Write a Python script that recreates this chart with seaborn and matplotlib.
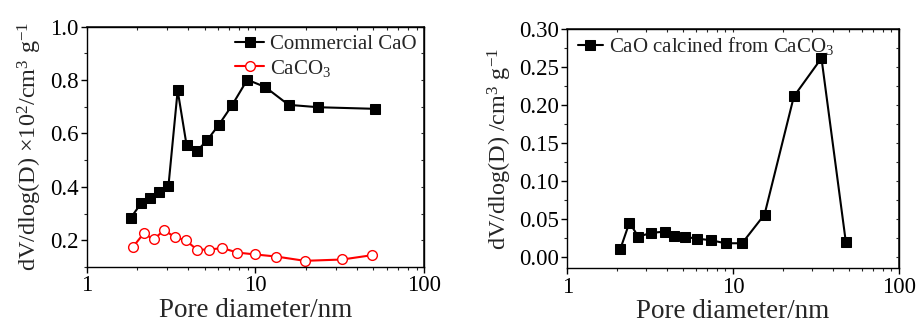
import matplotlib
matplotlib.use("Agg")
import matplotlib.pyplot as plt
import seaborn as sns
import numpy as np
from matplotlib.ticker import MultipleLocator, LogLocator, NullFormatter, FixedLocator, FixedFormatter

sns.set_theme(style="ticks")
plt.rcParams['font.family'] = ['Liberation Serif', 'DejaVu Serif']
plt.rcParams['mathtext.fontset'] = 'custom'
plt.rcParams['mathtext.rm'] = 'Liberation Serif'
plt.rcParams['mathtext.it'] = 'Liberation Serif:italic'
plt.rcParams['axes.unicode_minus'] = True

# Left panel data
comm_x = [1.83, 2.10, 2.38, 2.69, 3.05, 3.46, 3.91, 4.50, 5.18, 6.08, 7.26, 8.94, 11.4, 15.7, 23.6, 51.3]
comm_y = [0.285, 0.338, 0.358, 0.382, 0.402, 0.761, 0.555, 0.534, 0.575, 0.633, 0.705, 0.801, 0.774, 0.707, 0.698, 0.692]
caco3_x = [1.87, 2.18, 2.49, 2.88, 3.34, 3.86, 4.50, 5.32, 6.36, 7.80, 9.93, 13.3, 19.6, 32.7, 48.8]
caco3_y = [0.173, 0.226, 0.203, 0.238, 0.211, 0.200, 0.165, 0.165, 0.171, 0.154, 0.147, 0.139, 0.123, 0.128, 0.144]

# Right panel data
calc_x = [2.09, 2.37, 2.68, 3.22, 3.87, 4.41, 5.11, 6.03, 7.34, 9.02, 11.35, 15.5, 23.3, 34.2, 48.0]
calc_y = [0.0106, 0.0453, 0.0268, 0.0317, 0.0334, 0.0282, 0.0264, 0.0242, 0.0220, 0.0180, 0.0180, 0.0559, 0.2116, 0.2622, 0.0194]

left_yticks = [0.2, 0.4, 0.6, 0.8, 1.0]
right_yticks = [0.00, 0.05, 0.10, 0.15, 0.20, 0.25, 0.30]
xticks = [1, 10, 100]
xticklabels = ["1", "10", "100"]

fig = plt.figure(figsize=(9.17, 3.24), dpi=100)
ax1 = fig.add_axes([0.0945, 0.176, 0.3682, 0.742])
ax2 = fig.add_axes([0.6187, 0.172, 0.3613, 0.737])

tick_fs = 16.5
label_fs = 17.5

sns.lineplot(x=comm_x, y=comm_y, ax=ax1, color='black', marker='s', markersize=7,
             markeredgecolor='black', linewidth=1.5, label='Commercial CaO')
sns.lineplot(x=caco3_x, y=caco3_y, ax=ax1, color='red', marker='o', markersize=7,
             markerfacecolor='white', markeredgecolor='red', markeredgewidth=1.0,
             linewidth=1.5, label='CaCO$_3$')
sns.lineplot(x=calc_x, y=calc_y, ax=ax2, color='black', marker='s', markersize=7.5,
             markeredgecolor='black', linewidth=1.5, label='CaO calcined from CaCO$_3$')

for ax in (ax1, ax2):
    ax.set_xscale('log')
    ax.set_xlim(1, 100)
    ax.xaxis.set_major_locator(FixedLocator(xticks))
    ax.xaxis.set_major_formatter(FixedFormatter(xticklabels))
    ax.xaxis.set_minor_locator(LogLocator(base=10, subs=np.arange(2, 10)))
    ax.xaxis.set_minor_formatter(NullFormatter())
    ax.tick_params(axis='both', which='major', direction='out', length=4, width=1,
                   labelsize=tick_fs, colors='black', pad=2)
    ax.tick_params(axis='both', which='minor', direction='out', length=2.5, width=0.8)
    for s in ax.spines.values():
        s.set_linewidth(1.0)
        s.set_color('black')
    ax.set_xlabel('Pore diameter/nm', fontsize=19.5, labelpad=1)
    # mirror ticks on top / right
    top = ax.secondary_xaxis('top')
    top.set_xticks(xticks)
    top.xaxis.set_minor_locator(LogLocator(base=10, subs=np.arange(2, 10)))
    top.xaxis.set_minor_formatter(NullFormatter())
    top.set_xticklabels([])
    top.tick_params(which='both', direction='in', length=2.5, width=0.8)

ax1.set_ylim(0.1, 1.0)
ax1.set_yticks(left_yticks)
ax1.set_yticklabels([f"{v:.1f}" for v in left_yticks])
ax1.yaxis.set_minor_locator(MultipleLocator(0.1))
ax1.set_ylabel('dV/dlog(D) ×10$^2$/cm$^3$ g$^{-1}$', fontsize=label_fs, labelpad=4)

ax2.set_ylim(-0.015, 0.30)
ax2.set_yticks(right_yticks)
ax2.set_yticklabels([f"{v:.2f}" for v in right_yticks])
ax2.yaxis.set_minor_locator(MultipleLocator(0.025))
ax2.set_ylabel('dV/dlog(D) /cm$^3$ g$^{-1}$', fontsize=label_fs, labelpad=4)

for ax, minor in ((ax1, 0.1), (ax2, 0.025)):
    r = ax.secondary_yaxis('right')
    r.yaxis.set_major_locator(MultipleLocator(minor * 2))
    r.yaxis.set_minor_locator(MultipleLocator(minor))
    r.set_yticklabels([])
    r.tick_params(which='both', direction='in', length=2.5, width=0.8)

ax1.legend(loc='upper right', frameon=False, fontsize=15, handlelength=1.4,
           handletextpad=0.3, borderaxespad=0.0, labelspacing=0.15,
           bbox_to_anchor=(1.003, 1.0))
ax2.legend(loc='upper left', frameon=False, fontsize=15, handlelength=1.2,
           handletextpad=0.3, borderaxespad=0.1, bbox_to_anchor=(0.0, 1.02))

fig.savefig('out.png', dpi=100)
